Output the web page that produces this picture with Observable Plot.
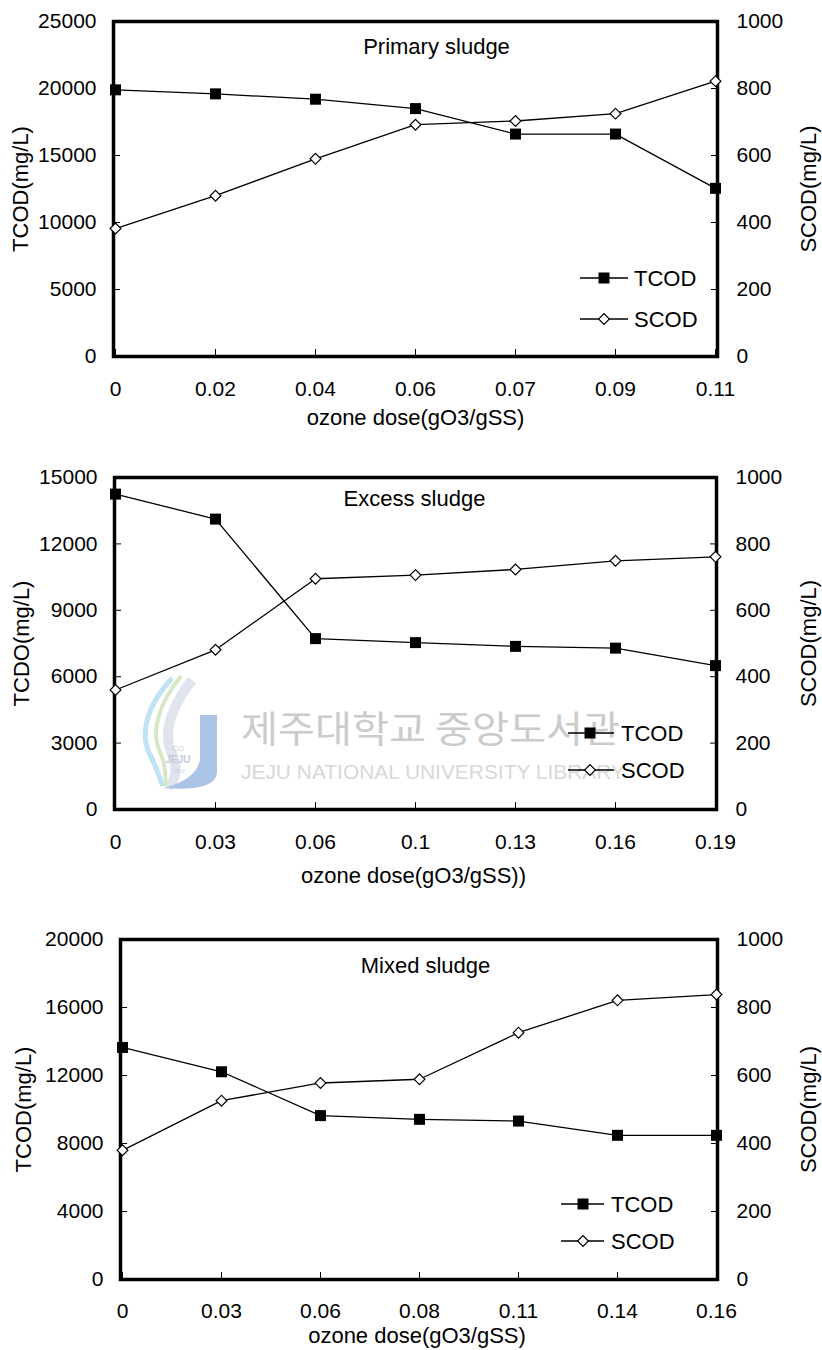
<!DOCTYPE html>
<html><head><meta charset="utf-8">
<script src="https://cdn.jsdelivr.net/npm/d3@7"></script>
<script src="https://cdn.jsdelivr.net/npm/@observablehq/plot@0.6"></script>
<style>
html,body{margin:0;padding:0;background:#fff;}
#chart{width:822px;height:1350px;position:relative;overflow:hidden;}
#chart svg{display:block;}
</style></head><body><div id="chart"></div>
<script>
// ---- data ----
const primaryDose = ["0","0.02","0.04","0.06","0.07","0.09","0.11"];
const primaryTCOD = [19900,19600,19200,18500,16600,16600,12550];
const primarySCOD = [382,480,590,692,703,725,822];

const excessDose = ["0","0.03","0.06","0.1","0.13","0.16","0.19"];
const excessTCOD = [14250,13120,7720,7540,7370,7290,6500];
const excessSCOD = [360,481,695,706,723,749,761];

const mixedDose = ["0","0.03","0.06","0.08","0.11","0.14","0.16"];
const mixedTCOD = [13650,12220,9640,9420,9320,8480,8480];
const mixedSCOD = [380,526,578,589,726,821,838];

const primaryTicks = [0,5000,10000,15000,20000,25000];
const excessTicks = [0,3000,6000,9000,12000,15000];
const mixedTicks = [0,4000,8000,12000,16000,20000];
const scodTicks = [0,200,400,600,800,1000];

const seriesNames = ["TCOD","SCOD"];
const FONT = "'Liberation Sans', Arial, Helvetica, sans-serif";

function panel(cfg) {
  const ratio = cfg.yMax / 1000;
  const rows = cfg.dose.map((d, i) => ({dose: d, tcod: cfg.tcod[i], scod: cfg.scod[i]}));
  const svg = Plot.plot({
    width: 822, height: cfg.height,
    marginTop: cfg.mt, marginBottom: cfg.mb, marginLeft: cfg.ml, marginRight: cfg.mr,
    style: {fontFamily: FONT, fontSize: "21px", background: "#fff", color: "#000", overflow: "visible"},
    x: {type: "point", domain: cfg.dose, padding: 0},
    y: {domain: [0, cfg.yMax]},
    marks: [
      Plot.axisY(cfg.leftTicks, {anchor: "left", tickSize: 7, dx: 7, fill: "none", label: null}),
      Plot.axisY(cfg.leftTicks, {anchor: "left", tickSize: 0, tickPadding: 17, stroke: "none", tickFormat: d => String(d), label: null}),
      Plot.axisY(scodTicks.map(v => v * ratio), {anchor: "right", tickSize: 7, dx: -7, fill: "none", label: null}),
      Plot.axisY(scodTicks.map(v => v * ratio), {anchor: "right", tickSize: 0, tickPadding: 19, stroke: "none", tickFormat: v => String(Math.round(v / ratio)), label: null}),
      Plot.axisX({anchor: "bottom", tickSize: 7, dy: -7, fill: "none", label: null}),
      Plot.axisX({anchor: "bottom", tickSize: 0, tickPadding: cfg.xTickPad, stroke: "none", label: null}),
      Plot.frame({stroke: "#000", strokeWidth: 3.5}),
      Plot.line(rows, {x: "dose", y: "tcod", stroke: "#000", strokeWidth: 1.3}),
      Plot.dot(rows, {x: "dose", y: "tcod", symbol: "square", r: 6.2, fill: "#000", stroke: "none"}),
      Plot.line(rows, {x: "dose", y: d => d.scod * ratio, stroke: "#000", strokeWidth: 1.3}),
      Plot.dot(rows, {x: "dose", y: d => d.scod * ratio, symbol: "square", rotate: 45, r: 4.3, fill: "#fff", stroke: "#000", strokeWidth: 1.2}),
      Plot.text([cfg.title], {frameAnchor: "top", lineAnchor: "middle", textAnchor: "middle", dx: cfg.titleDx, dy: cfg.titleDy, text: d => d, fontSize: 22}),
      Plot.text([cfg.xLabel], {frameAnchor: "bottom", lineAnchor: "middle", textAnchor: "middle", dx: cfg.xLabelDx, dy: cfg.xLabelDy, text: d => d, fontSize: 22}),
      Plot.text([cfg.yLabel], {frameAnchor: "left", lineAnchor: "middle", textAnchor: "middle", dx: cfg.yLabelDx, rotate: -90, text: d => d, fontSize: 22}),
      Plot.text([cfg.rLabel], {frameAnchor: "right", lineAnchor: "middle", textAnchor: "middle", dx: cfg.rLabelDx, rotate: -90, text: d => d, fontSize: 22})
    ]
  });

  const root = d3.select(svg);
  if (cfg.watermark) {
    const w = root.insert("g", ":first-child").attr("class", "watermark").attr("text-anchor", "start");
    w.append("path").attr("d", "M192,240 C172,266 162,292 172,314 C178,328 176,340 168,347").attr("fill", "none").attr("stroke", "#e0e4ec").attr("stroke-width", 10);
    w.append("path").attr("d", "M172,238 C150,262 138,290 150,315 C158,330 160,340 163,346").attr("fill", "none").attr("stroke", "#bfe2f4").attr("stroke-width", 5);
    w.append("path").attr("d", "M181,236 C160,262 150,290 160,312 C166,326 166,338 165,346").attr("fill", "none").attr("stroke", "#d4e8c5").attr("stroke-width", 4);
    w.append("path").attr("d", "M200,275 H217 V333 Q215,352 163,348 Q196,340 200,320 Z").attr("fill", "#abc4e6");
    w.append("text").attr("x", 178).attr("y", 311).attr("text-anchor", "middle").attr("font-family", FONT).attr("font-size", 8).attr("fill", "#c9cede").text("CO");
    w.append("text").attr("x", 178).attr("y", 323).attr("text-anchor", "middle").attr("font-family", FONT).attr("font-size", 10).attr("font-weight", "bold").attr("fill", "#c5cadb").text("JEJU");
    w.append("text").attr("x", 178).attr("y", 333).attr("text-anchor", "middle").attr("font-family", FONT).attr("font-size", 6).attr("fill", "#ccd1de").text("1952");
    w.append("text").attr("x", 241).attr("y", 290).attr("dy", "0.35em")
      .attr("font-family", "'Noto Sans CJK KR', sans-serif").attr("font-size", 37)
      .attr("textLength", 379).attr("lengthAdjust", "spacingAndGlyphs")
      .attr("fill", "#cbcbcb").text("제주대학교 중앙도서관");
    w.append("text").attr("x", 241).attr("y", 332).attr("dy", "0.35em")
      .attr("font-family", FONT).attr("font-size", 20)
      .attr("textLength", 384).attr("lengthAdjust", "spacingAndGlyphs")
      .attr("fill", "#d8d8d8").text("JEJU NATIONAL UNIVERSITY LIBRARY");
  }

  const L = cfg.legend;
  const g = root.append("g").attr("class", "legend").attr("font-family", FONT).attr("font-size", 22).attr("text-anchor", "start");
  seriesNames.forEach((name, i) => {
    const y = i === 0 ? L.y1 : L.y2;
    g.append("line").attr("x1", L.x1).attr("x2", L.x2).attr("y1", y).attr("y2", y).attr("stroke", "#000").attr("stroke-width", 1.3);
    if (i === 0) {
      g.append("path").attr("d", d3.symbol(d3.symbolSquare, 121)()).attr("transform", `translate(${L.mx},${y})`).attr("fill", "#000");
    } else {
      g.append("path").attr("d", d3.symbol(d3.symbolSquare, 58)()).attr("transform", `translate(${L.mx},${y}) rotate(45)`).attr("fill", "#fff").attr("stroke", "#000").attr("stroke-width", 1.2);
    }
    g.append("text").attr("x", L.tx).attr("y", y).attr("dy", "0.35em").text(name);
  });
  return svg;
}

const chart = document.getElementById("chart");
chart.appendChild(panel({
  dose: primaryDose, tcod: primaryTCOD, scod: primarySCOD, yMax: 25000, leftTicks: primaryTicks,
  height: 440, mt: 21, mb: 84, ml: 113, mr: 105, xTickPad: 25,
  title: "Primary sludge", titleDx: 21, titleDy: 25,
  xLabel: "ozone dose(gO3/gSS)", xLabelDx: 0, xLabelDy: 61,
  yLabel: "TCOD(mg/L)", yLabelDx: -93, rLabel: "SCOD(mg/L)", rLabelDx: 91,
  legend: {x1: 580, x2: 628, mx: 604, tx: 634, y1: 278, y2: 319}
}));
chart.appendChild(panel({
  dose: excessDose, tcod: excessTCOD, scod: excessSCOD, yMax: 15000, leftTicks: excessTicks,
  height: 460, mt: 37, mb: 91, ml: 114, mr: 106, xTickPad: 25,
  title: "Excess sludge", titleDx: -1, titleDy: 21,
  xLabel: "ozone dose(gO3/gSS))", xLabelDx: -2, xLabelDy: 66,
  yLabel: "TCDO(mg/L)", yLabelDx: -93, rLabel: "SCOD(mg/L)", rLabelDx: 92,
  legend: {x1: 568, x2: 614, mx: 590, tx: 621, y1: 293, y2: 330},
  watermark: true
}));
chart.appendChild(panel({
  dose: mixedDose, tcod: mixedTCOD, scod: mixedSCOD, yMax: 20000, leftTicks: mixedTicks,
  height: 450, mt: 39, mb: 71, ml: 120, mr: 105, xTickPad: 24,
  title: "Mixed sludge", titleDx: 6.5, titleDy: 26,
  xLabel: "ozone dose(gO3/gSS)", xLabelDx: -2, xLabelDy: 56,
  yLabel: "TCOD(mg/L)", yLabelDx: -97, rLabel: "SCOD(mg/L)", rLabelDx: 91,
  legend: {x1: 561, x2: 604, mx: 583, tx: 611, y1: 304, y2: 341}
}));
</script>
</body></html>
